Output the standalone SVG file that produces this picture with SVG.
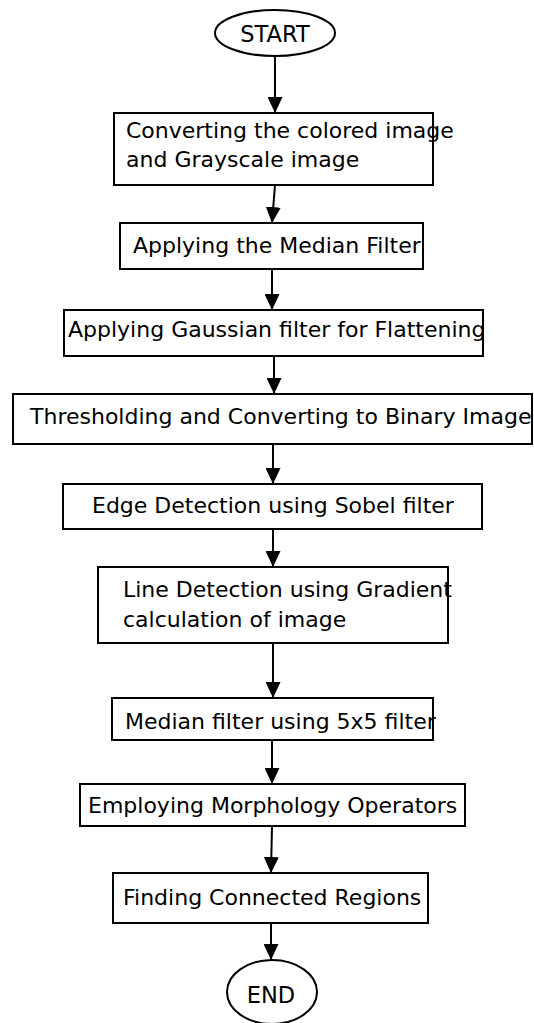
<svg xmlns="http://www.w3.org/2000/svg" width="534" height="1023" viewBox="0 0 534 1023">
<defs>
<marker id="ah" viewBox="0 0 16 15" refX="16" refY="7.5" markerWidth="16" markerHeight="15" markerUnits="userSpaceOnUse" orient="auto">
<path d="M0,0 L16,7.5 L0,15 Z" fill="#000"/>
</marker>
<style>
.box{fill:#fff;stroke:#000;stroke-width:2}
.t{font-family:"DejaVu Sans",sans-serif;font-size:22px;fill:#000}
.tc{font-family:"DejaVu Sans",sans-serif;font-size:22.5px;fill:#000;text-anchor:middle}
.c{stroke:#000;stroke-width:2;fill:none;marker-end:url(#ah)}
</style>
</defs>
<rect width="534" height="1023" fill="#fff"/>
<g id="connectors">
<line class="c" x1="275" y1="56" x2="275" y2="113"/>
<line class="c" x1="275" y1="185" x2="272" y2="223"/>
<line class="c" x1="272" y1="269" x2="272" y2="310"/>
<line class="c" x1="274" y1="356" x2="274" y2="394"/>
<line class="c" x1="273" y1="444" x2="273" y2="484"/>
<line class="c" x1="273" y1="529" x2="273" y2="567"/>
<line class="c" x1="273" y1="643" x2="273" y2="698"/>
<line class="c" x1="272" y1="740" x2="272" y2="784"/>
<line class="c" x1="272" y1="826" x2="271" y2="873"/>
<line class="c" x1="271" y1="923" x2="271" y2="960"/>
</g>
<g id="start"><ellipse class="box" cx="275" cy="33" rx="60" ry="23"/><text class="tc" x="275" y="42">START</text></g>
<g id="n1"><rect class="box" x="114" y="113" width="319" height="72"/><text class="t" x="126" y="138">Converting the colored image</text><text class="t" x="126" y="167">and Grayscale image</text></g>
<g id="n2"><rect class="box" x="120" y="223" width="303" height="46"/><text class="t" x="133" y="253">Applying the Median Filter</text></g>
<g id="n3"><rect class="box" x="64" y="310" width="419" height="46"/><text class="t" x="68" y="337">Applying Gaussian filter for Flattening</text></g>
<g id="n4"><rect class="box" x="13" y="394" width="519" height="50"/><text class="t" x="30" y="424">Thresholding and Converting to Binary Image</text></g>
<g id="n5"><rect class="box" x="63" y="484" width="419" height="45"/><text class="t" x="92" y="513">Edge Detection using Sobel filter</text></g>
<g id="n6"><rect class="box" x="98" y="567" width="350" height="76"/><text class="t" x="123" y="597">Line Detection using Gradient</text><text class="t" x="123" y="627">calculation of image</text></g>
<g id="n7"><rect class="box" x="112" y="698" width="321" height="42"/><text class="t" x="125" y="729">Median filter using 5x5 filter</text></g>
<g id="n8"><rect class="box" x="80" y="784" width="385" height="42"/><text class="t" x="88" y="813">Employing Morphology Operators</text></g>
<g id="n9"><rect class="box" x="113" y="873" width="315" height="50"/><text class="t" x="123" y="905">Finding Connected Regions</text></g>
<g id="end"><ellipse class="box" cx="272" cy="992" rx="45" ry="32"/><text class="tc" x="271" y="1003">END</text></g>
</svg>
